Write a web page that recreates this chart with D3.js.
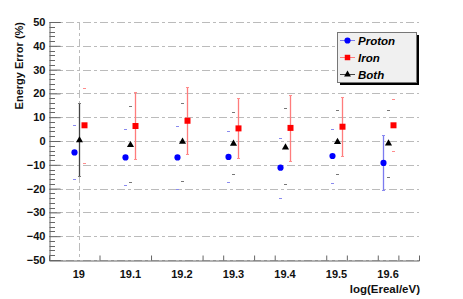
<!DOCTYPE html>
<html>
<head>
<meta charset="utf-8">
<script src="https://cdn.jsdelivr.net/npm/d3@7"></script>
<style>
  body { margin: 0; background: #fff; }
  text { font-family: "Liberation Sans", Arial, sans-serif; }
</style>
</head>
<body>
<div id="chart"></div>
<script>
// energies (log10 of E/eV) and the three sets of energy errors (%)
var energies = [19, 19.1, 19.2, 19.3, 19.4, 19.5, 19.6];

var protonMean = [-4.8, -6.9, -6.9, -6.7, -11.2, -6.3, -9.2];
var protonHi   = [6.6, 4.9, 6.2, 4.1, 1.1, 4.9, 2.4];
var protonLo   = [-16.1, -18.6, -20.2, -17.4, -24.1, -17.5, -20.6];

var ironMean = [6.6, 6.3, 8.5, 5.3, 5.5, 6.0, 6.6];
var ironHi   = [22.1, 20.5, 22.6, 17.9, 19.2, 18.4, 17.5];
var ironLo   = [-9.4, -7.7, -5.6, -7.3, -8.5, -6.4, -4.3];

var bothMean = [0.3, -1.7, -0.3, -1.1, -2.7, -0.4, -1.0];
var bothHi   = [15.8, 14.6, 16.0, 12.0, 13.7, 12.9, 12.9];
var bothLo   = [-14.8, -17.4, -16.7, -14.0, -18.2, -13.9, -15.0];

// which error bar is drawn as a full line in each energy bin
var fullBar = ['both', 'iron', 'iron', 'iron', 'iron', 'iron', 'proton'];

var yTicks = [-50, -40, -30, -20, -10, 0, 10, 20, 30, 40, 50];
var xTickLabels = ['19', '19.1', '19.2', '19.3', '19.4', '19.5', '19.6'];
var xTickMarks = [19.04, 19.14, 19.24, 19.28, 19.34, 19.38, 19.48, 19.52, 19.58, 19.62];

var svgWidth = 463, svgHeight = 299;
var margin = { top: 22, right: 44, bottom: 39, left: 49 };
var width = svgWidth - margin.left - margin.right;
var height = svgHeight - margin.top - margin.bottom;

var svg = d3.select('#chart').append('svg')
  .attr('width', svgWidth)
  .attr('height', svgHeight);

var chartGroup = svg.append('g')
  .attr('transform', `translate(${margin.left}, ${margin.top})`);

var xScale = d3.scaleLinear().domain([18.942, 19.66]).range([0, width]);
var yScale = d3.scaleLinear().domain([-50, 50]).range([height, 0]);

// horizontal grid
chartGroup.append('g')
  .selectAll('line')
  .data(yTicks)
  .enter()
  .append('line')
  .attr('x1', 0)
  .attr('x2', width)
  .attr('y1', d => Math.round(yScale(d)) + 0.5)
  .attr('y2', d => Math.round(yScale(d)) + 0.5)
  .attr('stroke', '#bbb')
  .attr('stroke-dasharray', '8,3,3,3');

// vertical grid line only at 19
chartGroup.append('line')
  .attr('x1', Math.round(xScale(19)) + 0.5)
  .attr('x2', Math.round(xScale(19)) + 0.5)
  .attr('y1', 0)
  .attr('y2', height)
  .attr('stroke', '#bbb')
  .attr('stroke-dasharray', '8,3,3,3');

// y axis
var leftAxis = d3.axisLeft(yScale)
  .tickValues(yTicks)
  .tickSize(-11)
  .tickPadding(4)
  .tickFormat(d3.format('d'));
var yAxis = chartGroup.append('g').attr('transform', 'translate(0.5,0)').call(leftAxis);
yAxis.select('.domain').attr('stroke', '#666');
yAxis.selectAll('.tick line').attr('stroke', '#666');
yAxis.selectAll('.tick text')
  .attr('font-size', '11px')
  .attr('font-weight', 'bold')
  .attr('fill', '#111')
  .attr('x', -4);

var minor = d3.range(-50, 50.01, 2).filter(d => d % 10 !== 0);
chartGroup.append('g')
  .selectAll('line')
  .data(minor)
  .enter()
  .append('line')
  .attr('x1', 0.5)
  .attr('x2', 6)
  .attr('y1', d => Math.round(yScale(d)) + 0.5)
  .attr('y2', d => Math.round(yScale(d)) + 0.5)
  .attr('stroke', '#666');

// x axis
var bottomAxis = d3.axisBottom(xScale)
  .tickValues(xTickMarks)
  .tickSize(-5)
  .tickFormat('');
var xAxis = chartGroup.append('g')
  .attr('transform', `translate(0, ${height + 0.5})`)
  .call(bottomAxis);
xAxis.select('.domain').attr('stroke', '#666');
xAxis.selectAll('.tick line').attr('stroke', '#666');

chartGroup.append('g')
  .selectAll('text')
  .data(energies)
  .enter()
  .append('text')
  .attr('x', d => xScale(d))
  .attr('y', height + 18)
  .attr('text-anchor', 'middle')
  .attr('font-size', '11px')
  .attr('font-weight', 'bold')
  .attr('fill', '#111')
  .text((d, i) => xTickLabels[i]);

// axis titles
chartGroup.append('text')
  .attr('x', width + 1)
  .attr('y', height + 33)
  .attr('text-anchor', 'end')
  .attr('font-size', '11.5px')
  .attr('font-weight', 'bold')
  .attr('fill', '#111')
  .text('log(Ereal/eV)');

svg.append('text')
  .attr('transform', 'rotate(-90)')
  .attr('x', -margin.top)
  .attr('y', 23)
  .attr('text-anchor', 'end')
  .attr('font-size', '11px')
  .attr('font-weight', 'bold')
  .attr('fill', '#111')
  .text('Energy Error (%)');

// series
var series = [
  { key: 'proton', mean: protonMean, hi: protonHi, lo: protonLo, dx: -0.0097,
    color: '#0000ff', barColor: '#7b7bef', capColor: '#8a8aef', shape: 'circle' },
  { key: 'iron', mean: ironMean, hi: ironHi, lo: ironLo, dx: 0.0097,
    color: '#ff0000', barColor: '#ff7c7c', capColor: '#ff8c8c', shape: 'square' },
  { key: 'both', mean: bothMean, hi: bothHi, lo: bothLo, dx: 0,
    color: '#000000', barColor: '#444444', capColor: '#777777', shape: 'triangle' }
];

function symbolOf(shape) {
  return shape === 'circle' ? d3.symbolCircle : shape === 'square' ? d3.symbolSquare : d3.symbolTriangle;
}

series.forEach(function(s) {
  var g = chartGroup.append('g');
  var rows = energies.map((e, i) => ({ e: e, m: s.mean[i], hi: s.hi[i], lo: s.lo[i], full: fullBar[i] === s.key }));
  var cx = d => Math.round(xScale(d.e + s.dx)) + 0.5;

  // error bar lines
  g.selectAll('.bar')
    .data(rows.filter(d => d.full))
    .enter()
    .append('line')
    .attr('x1', cx).attr('x2', cx)
    .attr('y1', d => yScale(d.hi))
    .attr('y2', d => yScale(d.lo))
    .attr('stroke', s.barColor)
    .attr('stroke-width', 1.3);

  // caps
  ['hi', 'lo'].forEach(function(k) {
    g.selectAll('.cap-' + k)
      .data(rows)
      .enter()
      .append('line')
      .attr('x1', d => cx(d) - 1.5)
      .attr('x2', d => cx(d) + 1.5)
      .attr('y1', d => Math.round(yScale(d[k])) + 0.5)
      .attr('y2', d => Math.round(yScale(d[k])) + 0.5)
      .attr('stroke', s.capColor)
      .attr('stroke-width', 1);
  });

  // markers
  var size = s.shape === 'circle' ? 30 : s.shape === 'square' ? 36 : 22;
  g.selectAll('.pt')
    .data(rows)
    .enter()
    .append('path')
    .attr('d', d3.symbol().type(symbolOf(s.shape)).size(size))
    .attr('transform', d => `translate(${cx(d)}, ${yScale(d.m)})`)
    .attr('fill', s.color);
});

// legend
var legend = svg.append('g').attr('transform', 'translate(337, 32)');
legend.append('rect')
  .attr('x', 3).attr('y', 3)
  .attr('width', 79).attr('height', 50)
  .attr('fill', '#000');
legend.append('rect')
  .attr('x', 0.5).attr('y', 0.5)
  .attr('width', 79).attr('height', 50)
  .attr('fill', '#f0f0f0')
  .attr('stroke', '#777');

var legendNames = ['Proton', 'Iron', 'Both'];
series.forEach(function(s, i) {
  var ly = 8.5 + i * 17;
  legend.append('line')
    .attr('x1', 3).attr('x2', 18)
    .attr('y1', ly).attr('y2', ly)
    .attr('stroke', s.barColor);
  legend.append('path')
    .attr('d', d3.symbol().type(symbolOf(s.shape)).size(s.shape === 'triangle' ? 20 : 30))
    .attr('transform', `translate(10.5, ${ly})`)
    .attr('fill', s.color);
  legend.append('text')
    .attr('x', 21)
    .attr('y', ly + 4)
    .attr('font-size', '11.5px')
    .attr('font-weight', 'bold')
    .attr('font-style', 'italic')
    .attr('fill', '#000')
    .text(legendNames[i]);
});
</script>
</body>
</html>
